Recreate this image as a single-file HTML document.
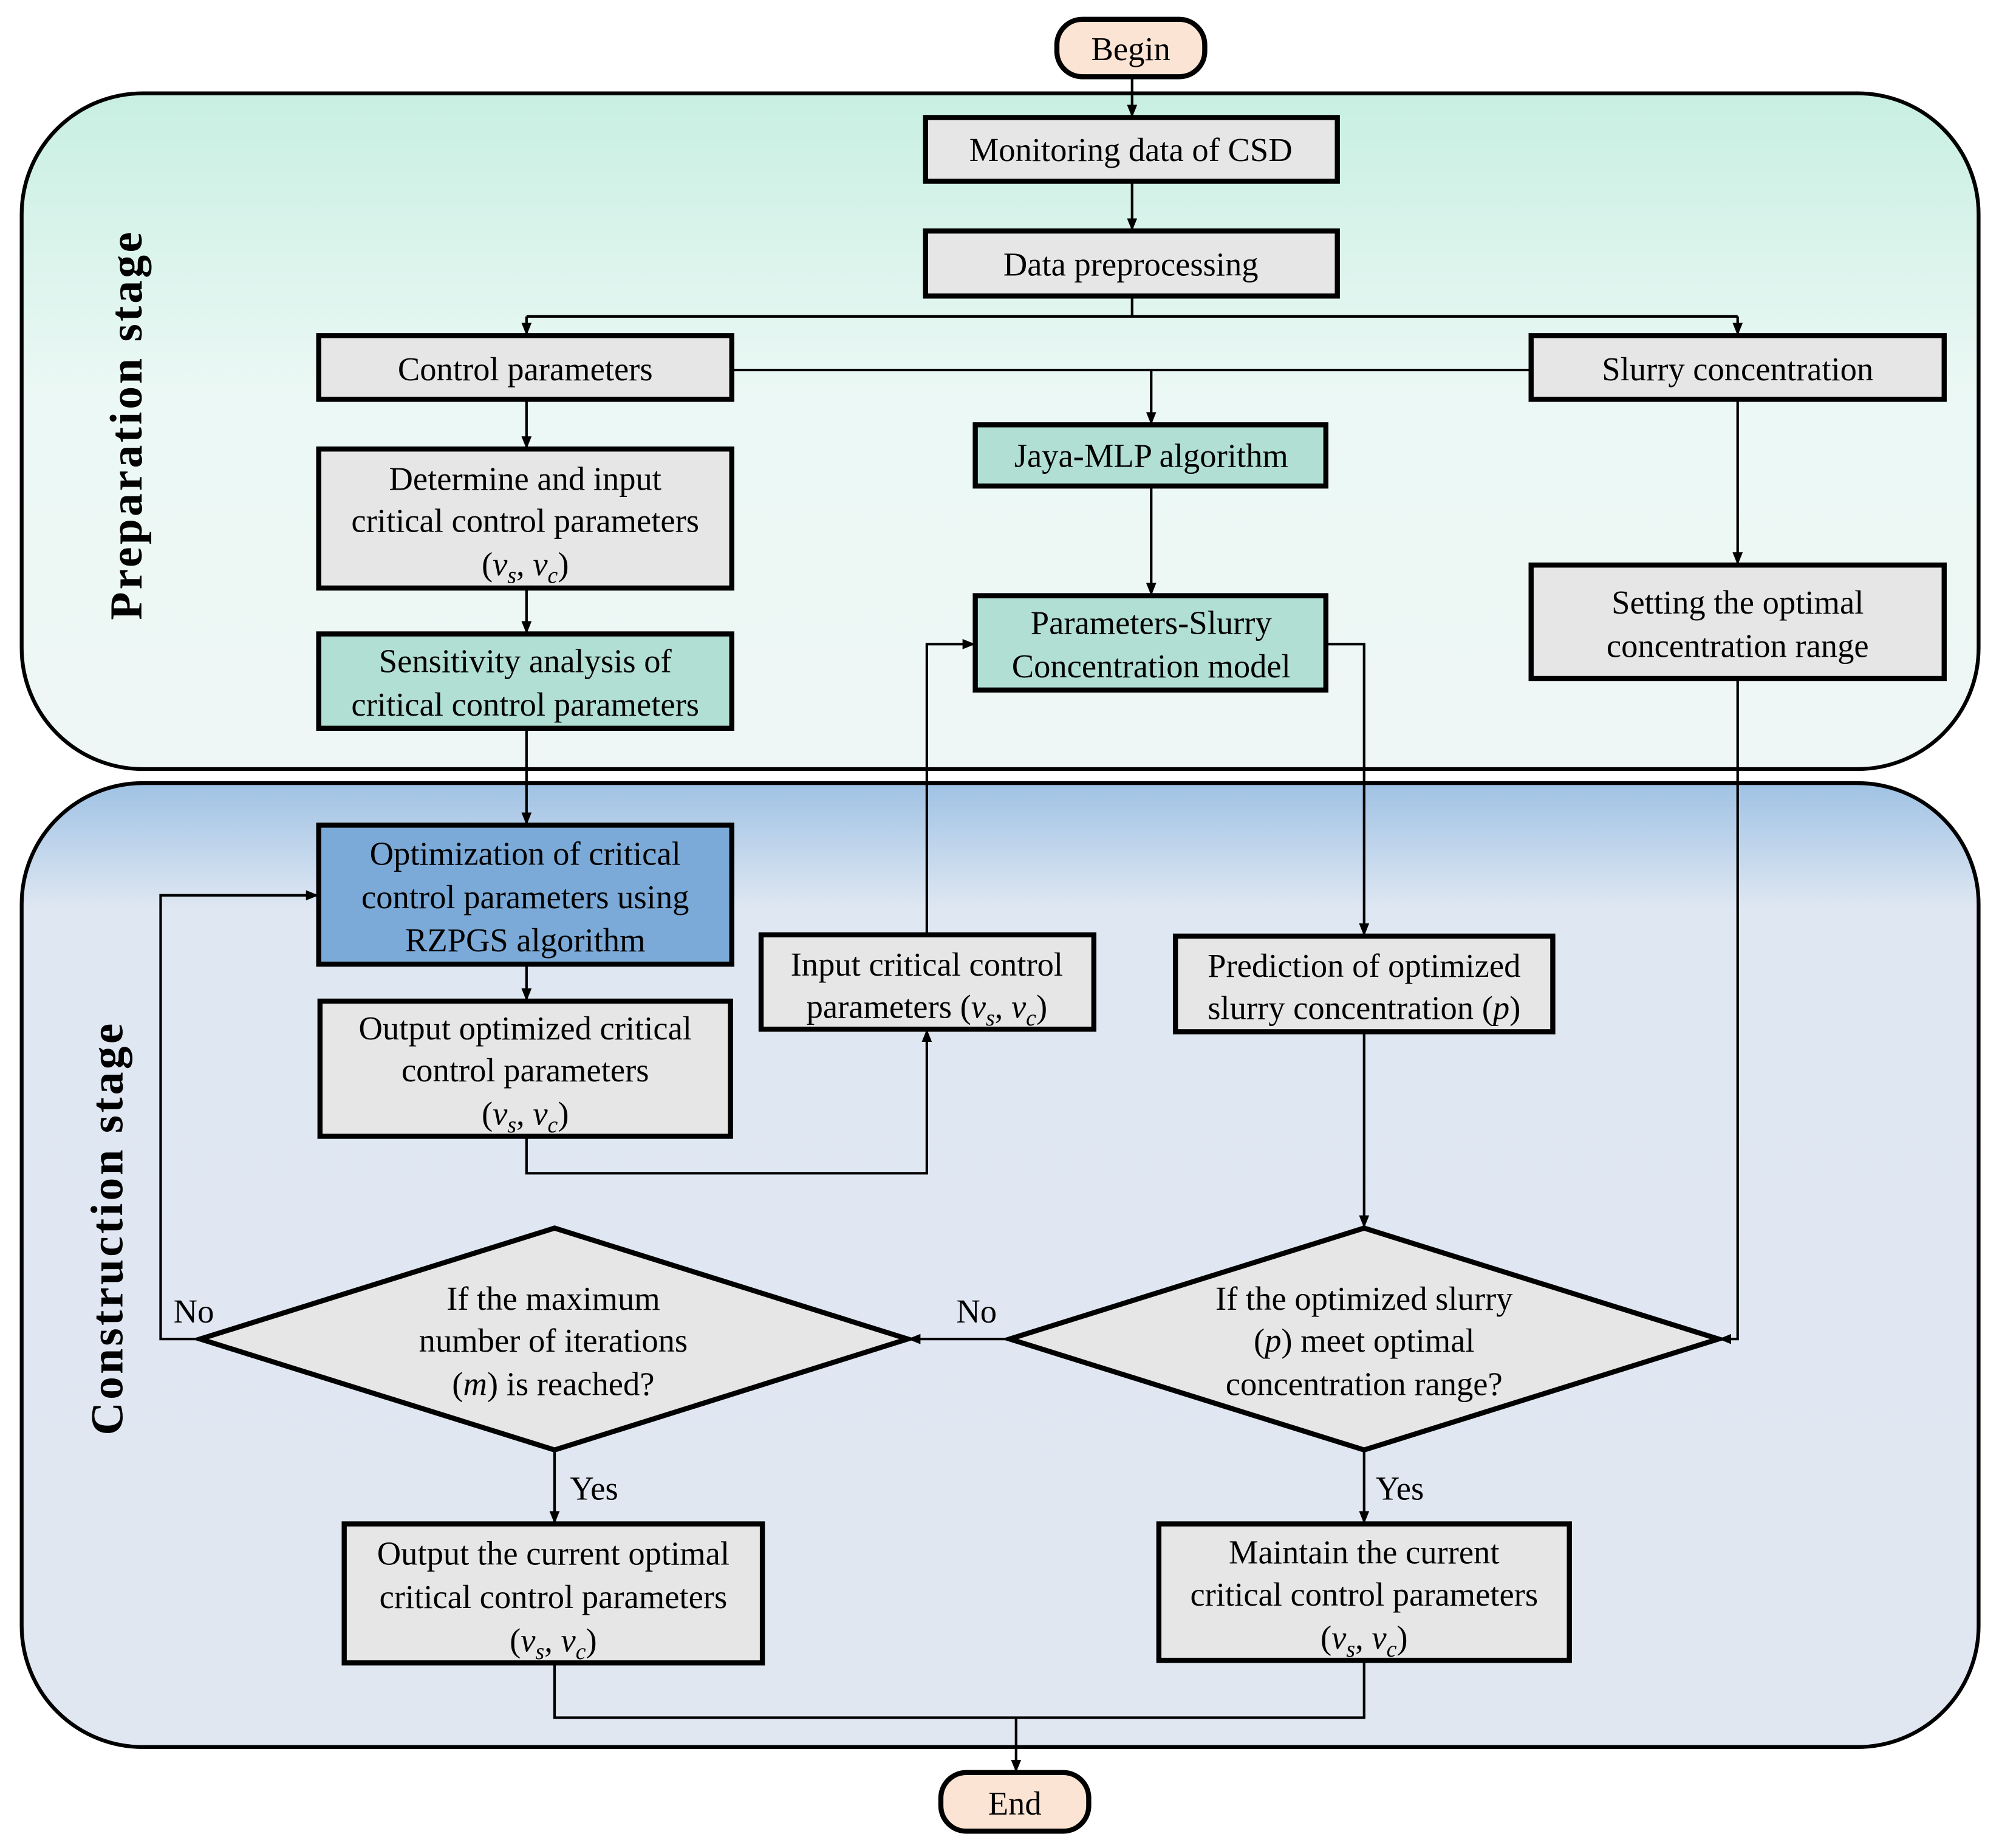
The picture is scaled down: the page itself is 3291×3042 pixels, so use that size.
<!DOCTYPE html>
<html><head><meta charset="utf-8"><style>html,body{margin:0;padding:0;background:#fff}svg{display:block}svg text{font-family:"Liberation Serif","Times New Roman",serif}</style></head>
<body>
<svg xmlns="http://www.w3.org/2000/svg" width="3291" height="3042" viewBox="0 0 1568 1449" style="font-family:'Liberation Serif',serif" font-size="26">
<defs>
<linearGradient id="gp" x1="0" y1="0" x2="0" y2="1"><stop offset="0" stop-color="#c8efe2"/><stop offset="0.45" stop-color="#ecf8f5"/><stop offset="1" stop-color="#eef7f5"/></linearGradient>
<linearGradient id="gc" x1="0" y1="0" x2="0" y2="1"><stop offset="0" stop-color="#9fc2e4"/><stop offset="0.13" stop-color="#dfe7f2"/><stop offset="1" stop-color="#e0e7f1"/></linearGradient>
<marker id="a" markerWidth="10" markerHeight="10" refX="9" refY="5" orient="auto" markerUnits="userSpaceOnUse"><path d="M0,1 L10,5 L0,9 z" fill="#000"/></marker>
</defs>
<rect x="17" y="73" width="1535" height="530" rx="95" fill="url(#gp)" stroke="#000" stroke-width="3"/>
<rect x="17" y="614" width="1535" height="756" rx="95" fill="url(#gc)" stroke="#000" stroke-width="3"/>
<text transform="translate(111,333) rotate(-90)" text-anchor="middle" font-weight="bold" font-size="36" letter-spacing="2">Preparation stage</text>
<text transform="translate(96,963) rotate(-90)" text-anchor="middle" font-weight="bold" font-size="36" letter-spacing="2">Construction stage</text>

<g fill="none" stroke="#000" stroke-width="2">
<path d="M888 60 V91" marker-end="url(#a)"/>
<path d="M888 142 V180" marker-end="url(#a)"/>
<path d="M888 232 V248"/>
<path d="M413 248 H1363"/>
<path d="M413 248 V262" marker-end="url(#a)"/>
<path d="M1363 248 V262" marker-end="url(#a)"/>
<path d="M574 290 H1201"/>
<path d="M903 290 V332" marker-end="url(#a)"/>
<path d="M413 313 V351" marker-end="url(#a)"/>
<path d="M413 461 V496" marker-end="url(#a)"/>
<path d="M903 381 V466" marker-end="url(#a)"/>
<path d="M1363 313 V442" marker-end="url(#a)"/>
<path d="M413 571 V646" marker-end="url(#a)"/>
<path d="M413 756 V784" marker-end="url(#a)"/>
<path d="M413 891 V920 H727 V808" marker-end="url(#a)"/>
<path d="M727 733 V505 H764" marker-end="url(#a)"/>
<path d="M1040 505 H1070 V733" marker-end="url(#a)"/>
<path d="M1070 809 V962" marker-end="url(#a)"/>
<path d="M1363 532 V1050 H1349" marker-end="url(#a)"/>
<path d="M792 1050 H713" marker-end="url(#a)"/>
<path d="M157 1050 H126 V702 H249" marker-end="url(#a)"/>
<path d="M435 1137 V1194" marker-end="url(#a)"/>
<path d="M1070 1137 V1194" marker-end="url(#a)"/>
<path d="M435 1304 V1347 H1070 V1302"/>
<path d="M797 1347 V1389" marker-end="url(#a)"/>
</g>

<g stroke="#000" stroke-width="4">
<rect x="829" y="15" width="116" height="45" rx="20" fill="#fce4d4"/>
<rect x="738" y="1390" width="116" height="46" rx="20" fill="#fce4d4"/>
<rect x="726" y="92" width="323" height="50" fill="#e6e6e6"/>
<rect x="726" y="181" width="323" height="51" fill="#e6e6e6"/>
<rect x="250" y="263" width="324" height="50" fill="#e6e6e6"/>
<rect x="1201" y="263" width="324" height="50" fill="#e6e6e6"/>
<rect x="765" y="333" width="275" height="48" fill="#b2dfd3"/>
<rect x="250" y="352" width="324" height="109" fill="#e6e6e6"/>
<rect x="250" y="497" width="324" height="74" fill="#b2dfd3"/>
<rect x="765" y="467" width="275" height="74" fill="#b2dfd3"/>
<rect x="1201" y="443" width="324" height="89" fill="#e6e6e6"/>
<rect x="250" y="647" width="324" height="109" fill="#7baad8"/>
<rect x="251" y="785" width="322" height="106" fill="#e6e6e6"/>
<rect x="597" y="733" width="261" height="74" fill="#e6e6e6"/>
<rect x="922" y="734" width="296" height="75" fill="#e6e6e6"/>
<polygon points="157,1050 435,963 712,1050 435,1137" fill="#e6e6e6"/>
<polygon points="792,1050 1070,963 1348,1050 1070,1137" fill="#e6e6e6"/>
<rect x="270" y="1195" width="328" height="109" fill="#e6e6e6"/>
<rect x="909" y="1195" width="322" height="107" fill="#e6e6e6"/>
</g>

<g text-anchor="middle" fill="#000">
<text x="887" y="47">Begin</text>
<text x="796" y="1423">End</text>
<text x="887" y="126">Monitoring data of CSD</text>
<text x="887" y="216">Data preprocessing</text>
<text x="412" y="298">Control parameters</text>
<text x="1363" y="298">Slurry concentration</text>
<text x="903" y="366">Jaya-MLP algorithm</text>
<text x="412" y="384">Determine and input</text>
<text x="412" y="417">critical control parameters</text>
<text x="412" y="451">(<tspan font-style="italic">v<tspan font-size="18" dy="6">s</tspan></tspan><tspan dy="-6">, </tspan><tspan font-style="italic">v<tspan font-size="18" dy="6">c</tspan></tspan><tspan dy="-6">)</tspan></text>
<text x="412" y="527">Sensitivity analysis of</text>
<text x="412" y="561">critical control parameters</text>
<text x="903" y="497">Parameters-Slurry</text>
<text x="903" y="531">Concentration model</text>
<text x="1363" y="481">Setting the optimal</text>
<text x="1363" y="515">concentration range</text>
<text x="412" y="678">Optimization of critical</text>
<text x="412" y="712">control parameters using</text>
<text x="412" y="746">RZPGS algorithm</text>
<text x="412" y="815">Output optimized critical</text>
<text x="412" y="848">control parameters</text>
<text x="412" y="882">(<tspan font-style="italic">v<tspan font-size="18" dy="6">s</tspan></tspan><tspan dy="-6">, </tspan><tspan font-style="italic">v<tspan font-size="18" dy="6">c</tspan></tspan><tspan dy="-6">)</tspan></text>
<text x="727" y="765">Input critical control</text>
<text x="727" y="798">parameters (<tspan font-style="italic">v<tspan font-size="18" dy="6">s</tspan></tspan><tspan dy="-6">, </tspan><tspan font-style="italic">v<tspan font-size="18" dy="6">c</tspan></tspan><tspan dy="-6">)</tspan></text>
<text x="1070" y="766">Prediction of optimized</text>
<text x="1070" y="799">slurry concentration (<tspan font-style="italic">p</tspan>)</text>
<text x="434" y="1027">If the maximum</text>
<text x="434" y="1060">number of iterations</text>
<text x="434" y="1094">(<tspan font-style="italic">m</tspan>) is reached?</text>
<text x="1070" y="1027">If the optimized slurry</text>
<text x="1070" y="1060">(<tspan font-style="italic">p</tspan>) meet optimal</text>
<text x="1070" y="1094">concentration range?</text>
<text x="434" y="1227">Output the current optimal</text>
<text x="434" y="1261">critical control parameters</text>
<text x="434" y="1295">(<tspan font-style="italic">v<tspan font-size="18" dy="6">s</tspan></tspan><tspan dy="-6">, </tspan><tspan font-style="italic">v<tspan font-size="18" dy="6">c</tspan></tspan><tspan dy="-6">)</tspan></text>
<text x="1070" y="1226">Maintain the current</text>
<text x="1070" y="1259">critical control parameters</text>
<text x="1070" y="1293">(<tspan font-style="italic">v<tspan font-size="18" dy="6">s</tspan></tspan><tspan dy="-6">, </tspan><tspan font-style="italic">v<tspan font-size="18" dy="6">c</tspan></tspan><tspan dy="-6">)</tspan></text>
<text x="152" y="1037">No</text>
<text x="766" y="1037">No</text>
<text x="466" y="1176">Yes</text>
<text x="1098" y="1176">Yes</text>
</g>
</svg>
</body></html>
